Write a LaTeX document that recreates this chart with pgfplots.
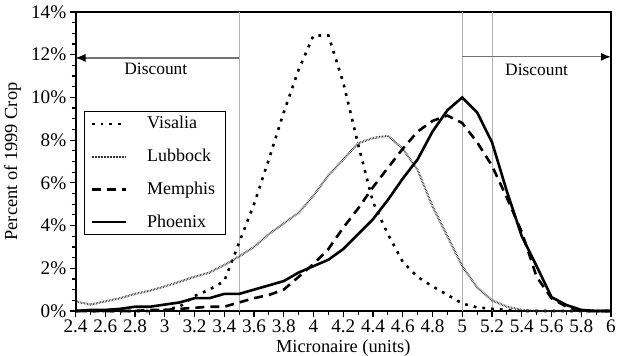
\documentclass[border=0pt]{standalone}
\usepackage{pgfplots}
\pgfplotsset{compat=1.18}
\usepackage{pgfplotstable}
\usetikzlibrary{arrows.meta}
\usepackage{fontspec}
\setmainfont{Liberation Serif}

\pgfplotstableread{
x v
2.4 0
2.5 0
2.6 0
2.7 0
2.8 0
2.9 0
3.0 0.05
3.1 0.2
3.2 0.7
3.3 1.0
3.4 1.4
3.5 3.2
3.6 5.0
3.7 7.1
3.8 9.3
3.9 11.3
4.0 12.9
4.1 12.9
4.2 10.7
4.3 7.8
4.4 5.1
4.5 3.6
4.6 2.3
4.7 1.6
4.8 1.15
4.9 0.76
5.0 0.35
5.1 0.17
5.2 0.1
5.3 0.05
5.4 0
5.5 0
5.6 0
5.7 0
5.8 0
5.9 0
6.0 0
}\visalia

\pgfplotstableread{
x v
2.4 0.45
2.5 0.3
2.6 0.45
2.7 0.6
2.8 0.8
2.9 0.95
3.0 1.15
3.1 1.37
3.2 1.6
3.3 1.8
3.4 2.15
3.5 2.55
3.6 3.0
3.7 3.6
3.8 4.1
3.9 4.6
4.0 5.4
4.1 6.35
4.2 7.1
4.3 7.85
4.4 8.1
4.5 8.2
4.6 7.6
4.7 6.6
4.8 4.9
4.9 3.5
5.0 2.1
5.1 1.1
5.2 0.5
5.3 0.2
5.4 0.05
5.5 0
5.6 0
5.7 0
5.8 0
5.9 0
6.0 0
}\lubbock

\pgfplotstableread{
x v
2.4 0
2.5 0
2.6 0
2.7 0
2.8 0
2.9 0.05
3.0 0.05
3.1 0.1
3.2 0.15
3.3 0.2
3.4 0.2
3.5 0.4
3.6 0.6
3.7 0.75
3.8 1.0
3.9 1.6
4.0 2.2
4.1 2.9
4.2 3.9
4.3 4.8
4.4 5.8
4.5 6.7
4.6 7.6
4.7 8.4
4.8 8.9
4.9 9.15
5.0 8.8
5.1 7.9
5.2 6.8
5.3 5.3
5.4 3.7
5.5 1.6
5.6 0.6
5.7 0.2
5.8 0
5.9 0
6.0 0
}\memphis

\pgfplotstableread{
x v
2.4 0
2.5 0.05
2.6 0.05
2.7 0.1
2.8 0.2
2.9 0.2
3.0 0.3
3.1 0.4
3.2 0.6
3.3 0.6
3.4 0.8
3.5 0.8
3.6 1.0
3.7 1.2
3.8 1.4
3.9 1.8
4.0 2.1
4.1 2.4
4.2 2.9
4.3 3.6
4.4 4.3
4.5 5.2
4.6 6.2
4.7 7.1
4.8 8.4
4.9 9.4
5.0 10.0
5.1 9.3
5.2 7.9
5.3 5.6
5.4 3.5
5.5 2.1
5.6 0.65
5.7 0.28
5.8 0.05
5.9 0
6.0 0
}\phoenix

\begin{document}
\fontsize{8.7}{10}\selectfont
\begin{tikzpicture}
\useasboundingbox (-37.75pt,-22.5pt) rectangle (274.25pt,155.5pt);
\begin{axis}[
  scale only axis,
  width=267.75pt, height=149.5pt,
  xmin=2.4, xmax=6, ymin=0, ymax=14,
  clip=false,
  axis line style={line width=1pt},
  xtick={2.4,2.6,2.8,3,3.2,3.4,3.6,3.8,4,4.2,4.4,4.6,4.8,5,5.2,5.4,5.6,5.8,6},
  minor xtick={2.5,2.7,2.9,3.1,3.3,3.5,3.7,3.9,4.1,4.3,4.5,4.7,4.9,5.1,5.3,5.5,5.7,5.9},
  ytick={0,2,4,6,8,10,12,14},
  minor ytick={0.5,1,1.5,2.5,3,3.5,4.5,5,5.5,6.5,7,7.5,8.5,9,9.5,10.5,11,11.5,12.5,13,13.5},
  xtick pos=bottom, ytick pos=left,
  tick align=outside,
  major tick length=3pt, minor tick length=2pt,
  tick style={line width=0.6pt, black},
  /pgf/number format/assume math mode=true,
  ticklabel style={font=\fontsize{9.6}{11}\selectfont},
  xticklabel style={yshift=1.5pt},
  yticklabel={\pgfmathprintnumber{\tick}\%},
  yticklabel style={xshift=1.5pt},
  label style={font=\fontsize{9.2}{11}\selectfont},
  xlabel={Micronaire (units)},
  ylabel={Percent of 1999 Crop},
  xlabel style={yshift=3pt},
  ylabel style={yshift=-1pt},
  legend style={at={(0.016,0.669)}, anchor=north west, draw=black, line width=0.5pt,
    font=\fontsize{9}{10}\selectfont, row sep=4.8pt, column sep=8pt, inner xsep=3pt, inner ysep=0.5pt},
  legend cell align=left,
  legend image code/.code={\draw[#1] (0pt,0pt) -- (17pt,0pt);},
]
\draw[black!30, line width=0.5pt] (axis cs:3.5,0) -- (axis cs:3.5,14);
\draw[black!30, line width=0.5pt] (axis cs:5.0,0) -- (axis cs:5.0,14);
\draw[black!30, line width=0.5pt] (axis cs:5.2,0) -- (axis cs:5.2,14);
\draw[black!55, line width=0.6pt, -{Latex[black,length=5pt,width=4pt]}] (axis cs:3.5,11.85) -- (axis cs:2.4,11.85);
\draw[black!55, line width=0.6pt, -{Latex[black,length=5pt,width=4pt]}] (axis cs:5.0,11.9) -- (axis cs:6.0,11.9);
\node at (axis cs:2.94,11.35) {Discount};
\node at (axis cs:5.50,11.3) {Discount};

\addplot[black, line width=1.3pt, dash pattern=on 1.4pt off 3pt] table[x=x,y=v] {\visalia};
\addlegendentry{Visalia}
\addplot[black!80, line width=1.1pt, dash pattern=on 0.3pt off 0.45pt] table[x=x,y=v] {\lubbock};
\addlegendentry{Lubbock}
\addplot[black, line width=1.3pt, dash pattern=on 4.5pt off 3pt] table[x=x,y=v] {\memphis};
\addlegendentry{Memphis}
\addplot[black, line width=1.3pt] table[x=x,y=v] {\phoenix};
\addlegendentry{Phoenix}
\end{axis}
\end{tikzpicture}
\end{document}
